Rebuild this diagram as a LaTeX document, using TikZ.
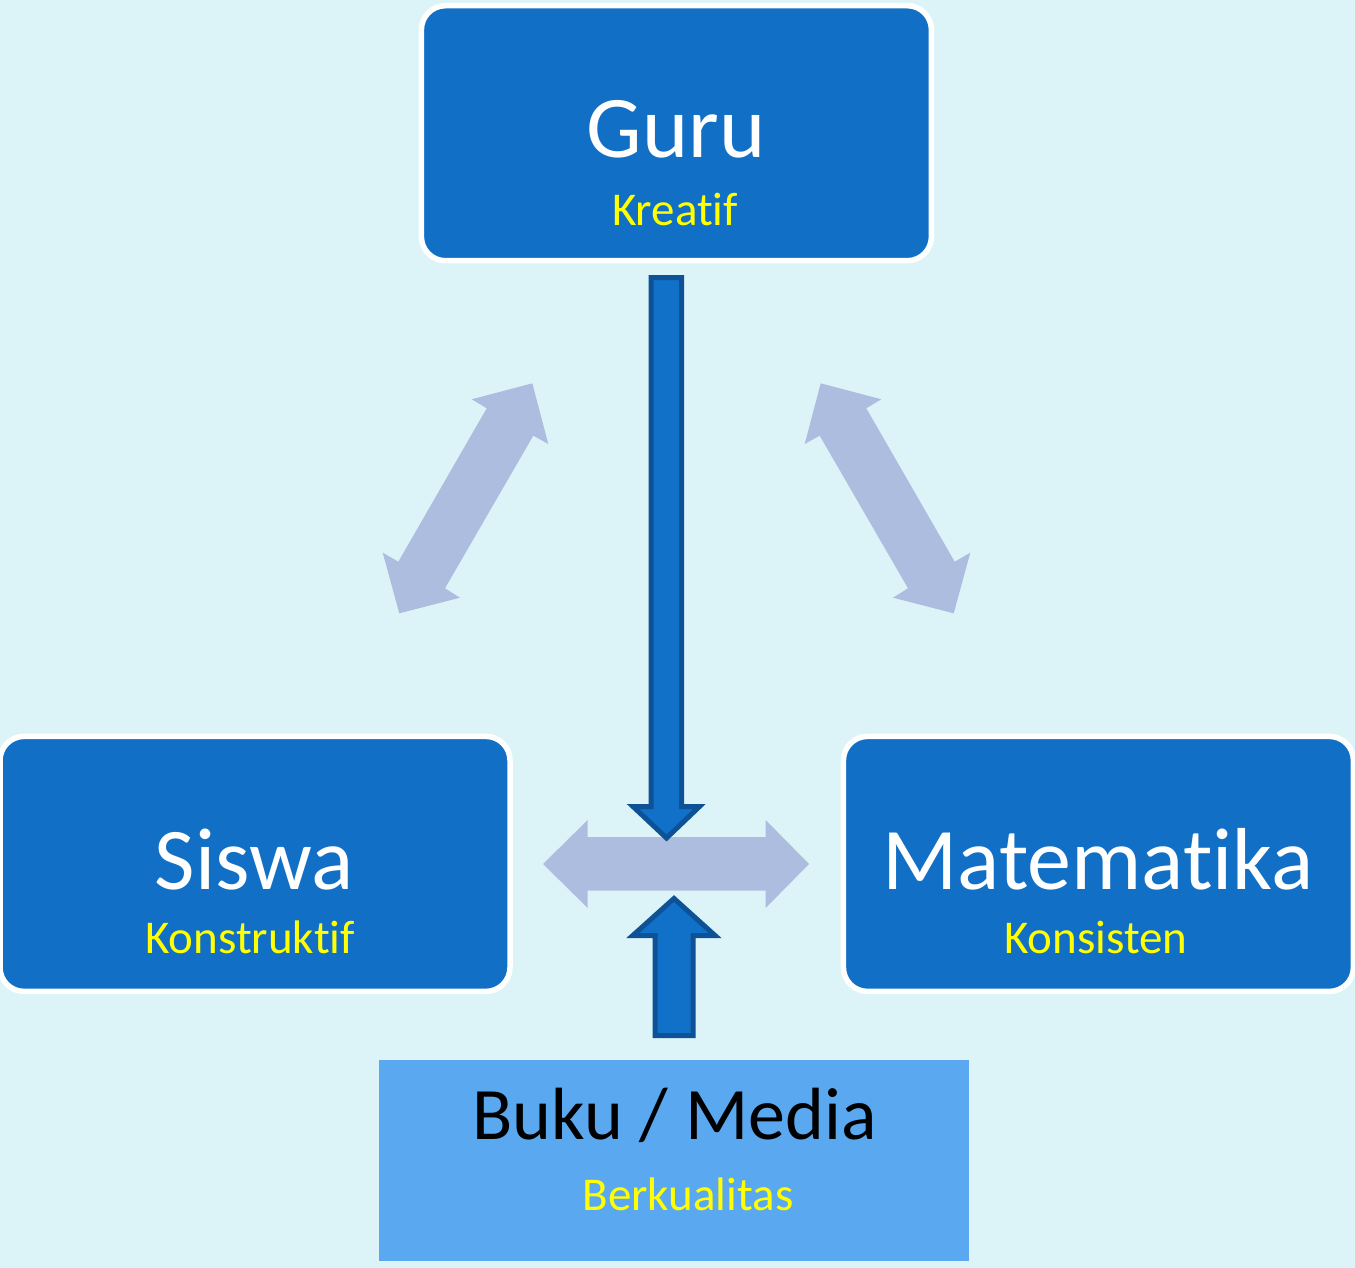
\documentclass[tikz,border=0pt]{standalone}
\usepackage{fontspec}
\setmainfont{Carlito}[Ligatures={NoCommon,NoContextual}]
\definecolor{bgcyan}{HTML}{DCF4F8}
\definecolor{boxblue}{HTML}{1170C6}
\definecolor{mediablue}{HTML}{5AA9F0}
\definecolor{lavender}{HTML}{ADBDE0}
\definecolor{arrowedge}{HTML}{0D5296}
\definecolor{arrowfill}{HTML}{1170C8}
\definecolor{tagyellow}{HTML}{FFFF00}
\begin{document}
\begin{tikzpicture}[x=1pt,y=-1pt,
  mainbox/.style={draw=white, line width=5.5pt, fill=boxblue, rounded corners=24pt,
    minimum width=510pt, minimum height=255pt, inner sep=0pt},
  mediabox/.style={fill=mediablue, minimum width=590pt, minimum height=200.7pt, inner sep=0pt},
  bigtext/.style={anchor=base, inner sep=0pt, text=white, font=\fontsize{88}{88}\selectfont},
  mediatext/.style={anchor=base, inner sep=0pt, text=black, font=\fontsize{74}{74}\selectfont},
  tagtext/.style={anchor=base, inner sep=0pt, text=tagyellow, font=\fontsize{47}{47}\selectfont},
  softarrow/.style={fill=lavender},
  blockarrow/.style={draw=arrowedge, fill=arrowfill, line width=5pt, miter limit=4}]
% background and page size
\fill[bgcyan] (0,0) rectangle (1355,1268);
\useasboundingbox (0,0) rectangle (1355,1268);

% boxes
\node[mainbox] (guru) at (676.4,133.2) {};
\node[mainbox] (siswa) at (255,863.9) {};
\node[mainbox] (mat) at (1098.4,863.9) {};
\node[mediabox] (buku) at (674,1160.3) {};

% labels
\node[bigtext] (guruT) at (676,158) {Guru};
\node[tagtext] (guruS) at (675,226) {Kreatif};
\node[bigtext] (siswaT) at (254,889) {Siswa};
\node[tagtext] (siswaS) at (250,953) {Konstruktif};
\node[bigtext] (matT) at (1098,889) {Matematika};
\node[tagtext] (matS) at (1096,953) {Konsisten};
\node[mediatext] (bukuT) at (674.5,1139.5) {Buku / Media};
\node[tagtext] (bukuS) at (688,1210) {Berkualitas};

% two-headed arrows between the outer boxes
\fill[softarrow] (543,864) -- (587.7,820) -- (587.7,837) -- (765.7,837) -- (765.7,820)
  -- (809,864) -- (765.7,908) -- (765.7,890.7) -- (587.7,890.7) -- (587.7,908) -- cycle;
\fill[softarrow] (532.3,383.3) -- (548.3,444) -- (533.3,435.7) -- (445,588.3) -- (460,597.7)
  -- (399.3,613.3) -- (382.7,552.7) -- (398.3,561.7) -- (486.7,408.3) -- (471.7,399.3) -- cycle;
\fill[softarrow] (820.7,383.3) -- (804.7,444) -- (819.7,435.7) -- (908,588.3) -- (893,597.7)
  -- (953.7,613.3) -- (970.3,552.7) -- (954.7,561.7) -- (866.3,408.3) -- (881.3,399.3) -- cycle;

% block arrow from Guru down to the centre
\draw[blockarrow] (651,277.5) -- (681.5,277.5) -- (681.5,806.5) -- (699.5,806.5)
  -- (666.5,838) -- (633,806.5) -- (651,806.5) -- cycle;
% block arrow from Buku / Media up to the centre
\draw[blockarrow] (655.2,1035.5) -- (693.2,1035.5) -- (693.2,935.5) -- (715,935.5)
  -- (674,898.5) -- (632.8,935.5) -- (655.2,935.5) -- cycle;
\end{tikzpicture}
\end{document}
